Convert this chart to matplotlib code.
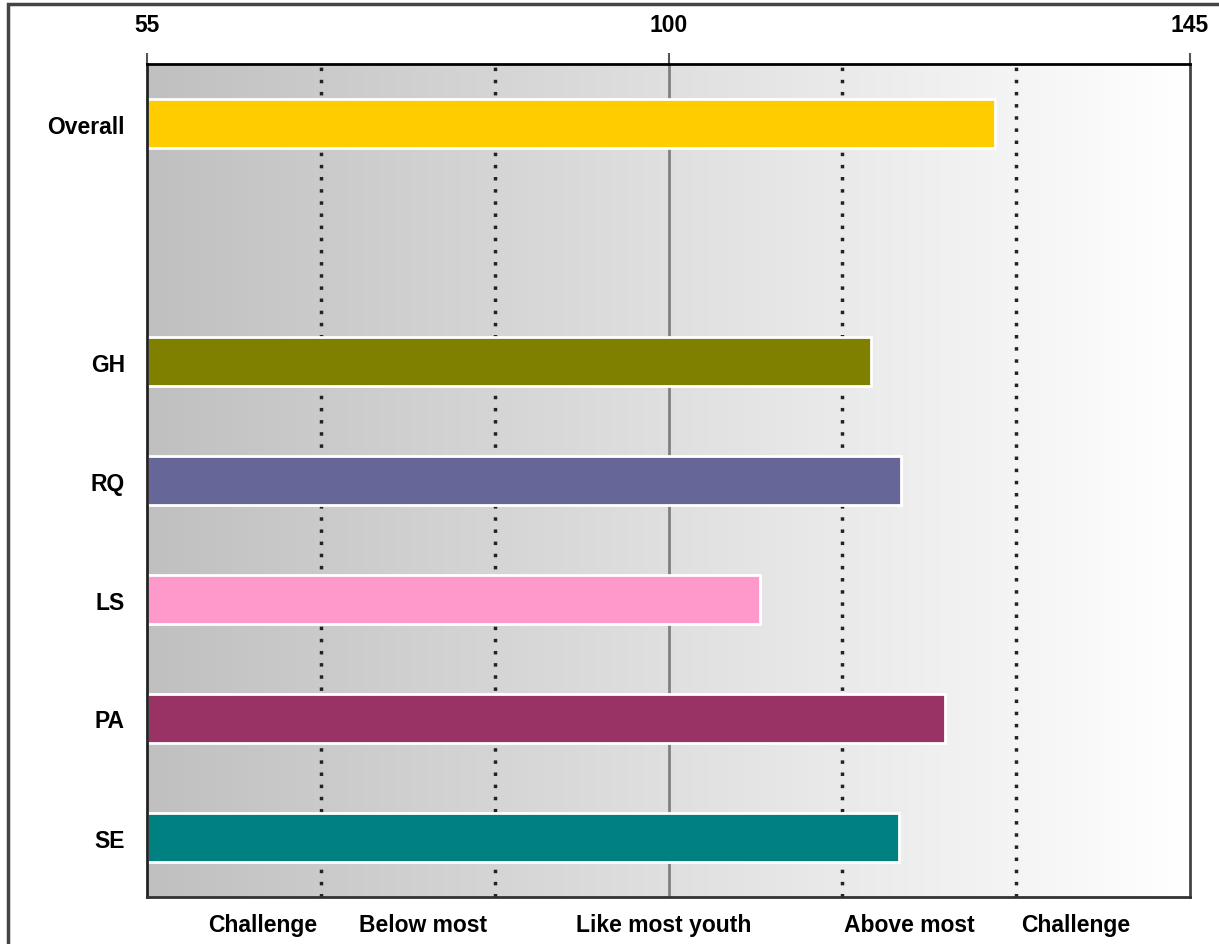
import numpy as np
import matplotlib
matplotlib.use("Agg")
import matplotlib.pyplot as plt
from matplotlib.patches import Rectangle

plt.rcParams['font.family'] = ['Liberation Sans', 'DejaVu Sans']

# data
categories = ["Overall", "", "GH", "RQ", "LS", "PA", "SE"]
values = [128.2, 0, 117.5, 120.1, 107.9, 123.9, 119.9]
colors = ["#FFCC00", "none", "#808000", "#666699", "#FF99CC", "#993366", "#008080"]
top_ticks = [55, 100, 145]
cutoffs = [70, 85, 115, 130]
zone_labels = ["Challenge", "Below most", "Like most youth", "Above most", "Challenge"]
zone_pos = [65, 78.8, 99.6, 120.8, 135.1]

fig = plt.figure(figsize=(12.19, 9.45), dpi=100)
W, H = 1219, 945
ax = fig.add_axes([147 / W, 1 - 898 / H, (1190 - 147) / W, (898 - 65) / H])

xmin, xmax = 55, 145
ymin, ymax = len(categories) - 0.5, -0.5

# gray-to-white background gradient
grad = np.linspace(0, 1, 256).reshape(1, -1)
ax.imshow(grad, extent=[xmin, xmax, ymin, ymax], aspect='auto',
          cmap=matplotlib.colors.LinearSegmentedColormap.from_list('g', ['#c0c0c0', '#ffffff']),
          zorder=0)

for c in cutoffs:
    ax.axvline(c, color='#222222', lw=2.5, ls=(0, (1, 2.5)), zorder=1)
ax.axvline(100, color='#808080', lw=2, zorder=1)

y = np.arange(len(categories))
for yi, v, col in zip(y, values, colors):
    if v <= 0:
        continue
    ax.barh(yi, v - xmin, left=xmin, height=0.42, color=col, edgecolor='white',
            linewidth=2, zorder=2)

ax.set_xlim(xmin, xmax)
ax.set_ylim(ymin, ymax)

fs = 16.5
ax.xaxis.tick_top()
ax.set_xticks(top_ticks)
ax.set_xticklabels([str(t) for t in top_ticks], fontsize=fs, fontweight='bold')
ax.tick_params(axis='x', length=8, width=1.5, color='#555555', pad=12)
ax.set_yticks(y)
ax.set_yticklabels(categories, fontsize=fs, fontweight='bold')
ax.tick_params(axis='y', length=0, pad=16)

for s in ax.spines.values():
    s.set_linewidth(2)
ax.spines['top'].set_color('black')
ax.spines['right'].set_color('#444444')
ax.spines['left'].set_color('#222222')
ax.spines['bottom'].set_color('#333333')

for lbl, xp in zip(zone_labels, zone_pos):
    ax.text(xp, ymin + 0.23, lbl, ha='center', va='center', fontsize=fs,
            fontweight='bold', clip_on=False)

# outer frame
fig.patches.append(Rectangle((8 / W, -0.05), 1.2, 1 - 5 / H + 0.05, transform=fig.transFigure,
                             fill=False, edgecolor='#444444', lw=2.5))

fig.savefig("out.png", dpi=100)
